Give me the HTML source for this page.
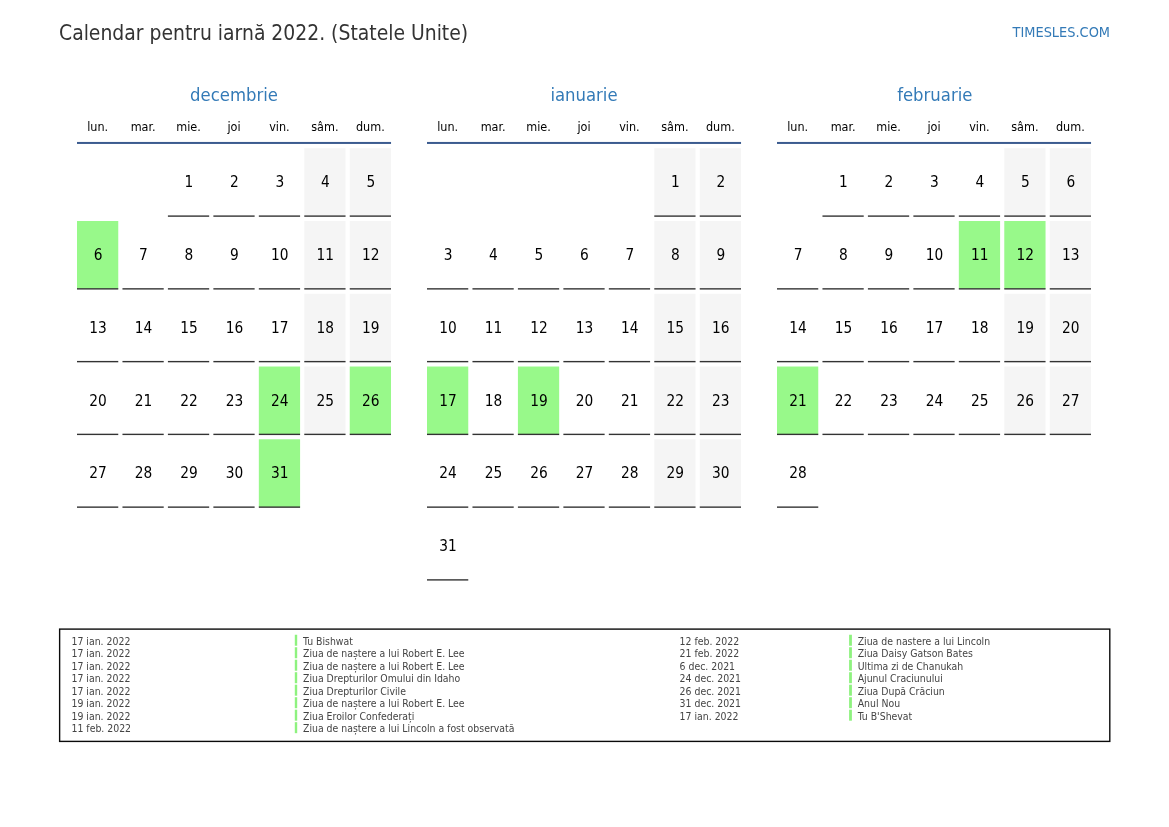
<!DOCTYPE html>
<html lang="ro"><head><meta charset="utf-8"><title>Calendar pentru iarnă 2022. (Statele Unite)</title>
<style>
html,body{margin:0;padding:0;background:#fff;}
body{width:1169px;height:827px;position:relative;overflow:hidden;font-family:"DejaVu Sans Condensed","DejaVu Sans","Liberation Sans",sans-serif;font-stretch:condensed;color:#000;}
#pg{position:absolute;left:0;top:0;width:1169px;height:827px;}
svg{position:absolute;left:0;top:0;}
.a{position:absolute;white-space:nowrap;}
.title{left:59px;top:21px;font-size:20.9px;line-height:24px;color:#333;}
.site{right:59px;top:24px;font-size:14.4px;line-height:16px;color:#337ab7;}
.mn{width:314px;text-align:center;top:84px;font-size:18.33px;line-height:22px;color:#337ab7;}
.wd{width:41.26px;text-align:center;top:119px;font-size:12.5px;line-height:16px;color:#000;}
.c{width:41.26px;height:68px;text-align:center;font-size:15.28px;line-height:68px;}
.l{font-size:10.4px;line-height:12px;color:#444;}
</style></head><body><div id="pg">
<svg width="1169" height="827" viewBox="0 0 1169 827">
<rect x="77.0" y="141.95" width="314.04" height="2" fill="#3b5b8f"/>
<rect x="167.91" y="215.41" width="41.26" height="1.39" fill="#333"/>
<rect x="213.37" y="215.41" width="41.26" height="1.39" fill="#333"/>
<rect x="258.83" y="215.41" width="41.26" height="1.39" fill="#333"/>
<rect x="304.28" y="148.24" width="41.26" height="67.86" fill="#f5f5f5"/>
<rect x="304.28" y="215.41" width="41.26" height="1.39" fill="#333"/>
<rect x="349.74" y="148.24" width="41.26" height="67.86" fill="#f5f5f5"/>
<rect x="349.74" y="215.41" width="41.26" height="1.39" fill="#333"/>
<rect x="77.00" y="221.00" width="41.26" height="67.86" fill="#98f98a"/>
<rect x="77.00" y="288.17" width="41.26" height="1.39" fill="#333"/>
<rect x="122.46" y="288.17" width="41.26" height="1.39" fill="#333"/>
<rect x="167.91" y="288.17" width="41.26" height="1.39" fill="#333"/>
<rect x="213.37" y="288.17" width="41.26" height="1.39" fill="#333"/>
<rect x="258.83" y="288.17" width="41.26" height="1.39" fill="#333"/>
<rect x="304.28" y="221.00" width="41.26" height="67.86" fill="#f5f5f5"/>
<rect x="304.28" y="288.17" width="41.26" height="1.39" fill="#333"/>
<rect x="349.74" y="221.00" width="41.26" height="67.86" fill="#f5f5f5"/>
<rect x="349.74" y="288.17" width="41.26" height="1.39" fill="#333"/>
<rect x="77.00" y="360.93" width="41.26" height="1.39" fill="#333"/>
<rect x="122.46" y="360.93" width="41.26" height="1.39" fill="#333"/>
<rect x="167.91" y="360.93" width="41.26" height="1.39" fill="#333"/>
<rect x="213.37" y="360.93" width="41.26" height="1.39" fill="#333"/>
<rect x="258.83" y="360.93" width="41.26" height="1.39" fill="#333"/>
<rect x="304.28" y="293.76" width="41.26" height="67.86" fill="#f5f5f5"/>
<rect x="304.28" y="360.93" width="41.26" height="1.39" fill="#333"/>
<rect x="349.74" y="293.76" width="41.26" height="67.86" fill="#f5f5f5"/>
<rect x="349.74" y="360.93" width="41.26" height="1.39" fill="#333"/>
<rect x="77.00" y="433.69" width="41.26" height="1.39" fill="#333"/>
<rect x="122.46" y="433.69" width="41.26" height="1.39" fill="#333"/>
<rect x="167.91" y="433.69" width="41.26" height="1.39" fill="#333"/>
<rect x="213.37" y="433.69" width="41.26" height="1.39" fill="#333"/>
<rect x="258.83" y="366.52" width="41.26" height="67.86" fill="#98f98a"/>
<rect x="258.83" y="433.69" width="41.26" height="1.39" fill="#333"/>
<rect x="304.28" y="366.52" width="41.26" height="67.86" fill="#f5f5f5"/>
<rect x="304.28" y="433.69" width="41.26" height="1.39" fill="#333"/>
<rect x="349.74" y="366.52" width="41.26" height="67.86" fill="#98f98a"/>
<rect x="349.74" y="433.69" width="41.26" height="1.39" fill="#333"/>
<rect x="77.00" y="506.44" width="41.26" height="1.39" fill="#333"/>
<rect x="122.46" y="506.44" width="41.26" height="1.39" fill="#333"/>
<rect x="167.91" y="506.44" width="41.26" height="1.39" fill="#333"/>
<rect x="213.37" y="506.44" width="41.26" height="1.39" fill="#333"/>
<rect x="258.83" y="439.28" width="41.26" height="67.86" fill="#98f98a"/>
<rect x="258.83" y="506.44" width="41.26" height="1.39" fill="#333"/>
<rect x="427.0" y="141.95" width="314.04" height="2" fill="#3b5b8f"/>
<rect x="654.28" y="148.24" width="41.26" height="67.86" fill="#f5f5f5"/>
<rect x="654.28" y="215.41" width="41.26" height="1.39" fill="#333"/>
<rect x="699.74" y="148.24" width="41.26" height="67.86" fill="#f5f5f5"/>
<rect x="699.74" y="215.41" width="41.26" height="1.39" fill="#333"/>
<rect x="427.00" y="288.17" width="41.26" height="1.39" fill="#333"/>
<rect x="472.46" y="288.17" width="41.26" height="1.39" fill="#333"/>
<rect x="517.91" y="288.17" width="41.26" height="1.39" fill="#333"/>
<rect x="563.37" y="288.17" width="41.26" height="1.39" fill="#333"/>
<rect x="608.83" y="288.17" width="41.26" height="1.39" fill="#333"/>
<rect x="654.28" y="221.00" width="41.26" height="67.86" fill="#f5f5f5"/>
<rect x="654.28" y="288.17" width="41.26" height="1.39" fill="#333"/>
<rect x="699.74" y="221.00" width="41.26" height="67.86" fill="#f5f5f5"/>
<rect x="699.74" y="288.17" width="41.26" height="1.39" fill="#333"/>
<rect x="427.00" y="360.93" width="41.26" height="1.39" fill="#333"/>
<rect x="472.46" y="360.93" width="41.26" height="1.39" fill="#333"/>
<rect x="517.91" y="360.93" width="41.26" height="1.39" fill="#333"/>
<rect x="563.37" y="360.93" width="41.26" height="1.39" fill="#333"/>
<rect x="608.83" y="360.93" width="41.26" height="1.39" fill="#333"/>
<rect x="654.28" y="293.76" width="41.26" height="67.86" fill="#f5f5f5"/>
<rect x="654.28" y="360.93" width="41.26" height="1.39" fill="#333"/>
<rect x="699.74" y="293.76" width="41.26" height="67.86" fill="#f5f5f5"/>
<rect x="699.74" y="360.93" width="41.26" height="1.39" fill="#333"/>
<rect x="427.00" y="366.52" width="41.26" height="67.86" fill="#98f98a"/>
<rect x="427.00" y="433.69" width="41.26" height="1.39" fill="#333"/>
<rect x="472.46" y="433.69" width="41.26" height="1.39" fill="#333"/>
<rect x="517.91" y="366.52" width="41.26" height="67.86" fill="#98f98a"/>
<rect x="517.91" y="433.69" width="41.26" height="1.39" fill="#333"/>
<rect x="563.37" y="433.69" width="41.26" height="1.39" fill="#333"/>
<rect x="608.83" y="433.69" width="41.26" height="1.39" fill="#333"/>
<rect x="654.28" y="366.52" width="41.26" height="67.86" fill="#f5f5f5"/>
<rect x="654.28" y="433.69" width="41.26" height="1.39" fill="#333"/>
<rect x="699.74" y="366.52" width="41.26" height="67.86" fill="#f5f5f5"/>
<rect x="699.74" y="433.69" width="41.26" height="1.39" fill="#333"/>
<rect x="427.00" y="506.44" width="41.26" height="1.39" fill="#333"/>
<rect x="472.46" y="506.44" width="41.26" height="1.39" fill="#333"/>
<rect x="517.91" y="506.44" width="41.26" height="1.39" fill="#333"/>
<rect x="563.37" y="506.44" width="41.26" height="1.39" fill="#333"/>
<rect x="608.83" y="506.44" width="41.26" height="1.39" fill="#333"/>
<rect x="654.28" y="439.28" width="41.26" height="67.86" fill="#f5f5f5"/>
<rect x="654.28" y="506.44" width="41.26" height="1.39" fill="#333"/>
<rect x="699.74" y="439.28" width="41.26" height="67.86" fill="#f5f5f5"/>
<rect x="699.74" y="506.44" width="41.26" height="1.39" fill="#333"/>
<rect x="427.00" y="579.20" width="41.26" height="1.39" fill="#333"/>
<rect x="777.0" y="141.95" width="314.04" height="2" fill="#3b5b8f"/>
<rect x="822.46" y="215.41" width="41.26" height="1.39" fill="#333"/>
<rect x="867.91" y="215.41" width="41.26" height="1.39" fill="#333"/>
<rect x="913.37" y="215.41" width="41.26" height="1.39" fill="#333"/>
<rect x="958.83" y="215.41" width="41.26" height="1.39" fill="#333"/>
<rect x="1004.28" y="148.24" width="41.26" height="67.86" fill="#f5f5f5"/>
<rect x="1004.28" y="215.41" width="41.26" height="1.39" fill="#333"/>
<rect x="1049.74" y="148.24" width="41.26" height="67.86" fill="#f5f5f5"/>
<rect x="1049.74" y="215.41" width="41.26" height="1.39" fill="#333"/>
<rect x="777.00" y="288.17" width="41.26" height="1.39" fill="#333"/>
<rect x="822.46" y="288.17" width="41.26" height="1.39" fill="#333"/>
<rect x="867.91" y="288.17" width="41.26" height="1.39" fill="#333"/>
<rect x="913.37" y="288.17" width="41.26" height="1.39" fill="#333"/>
<rect x="958.83" y="221.00" width="41.26" height="67.86" fill="#98f98a"/>
<rect x="958.83" y="288.17" width="41.26" height="1.39" fill="#333"/>
<rect x="1004.28" y="221.00" width="41.26" height="67.86" fill="#98f98a"/>
<rect x="1004.28" y="288.17" width="41.26" height="1.39" fill="#333"/>
<rect x="1049.74" y="221.00" width="41.26" height="67.86" fill="#f5f5f5"/>
<rect x="1049.74" y="288.17" width="41.26" height="1.39" fill="#333"/>
<rect x="777.00" y="360.93" width="41.26" height="1.39" fill="#333"/>
<rect x="822.46" y="360.93" width="41.26" height="1.39" fill="#333"/>
<rect x="867.91" y="360.93" width="41.26" height="1.39" fill="#333"/>
<rect x="913.37" y="360.93" width="41.26" height="1.39" fill="#333"/>
<rect x="958.83" y="360.93" width="41.26" height="1.39" fill="#333"/>
<rect x="1004.28" y="293.76" width="41.26" height="67.86" fill="#f5f5f5"/>
<rect x="1004.28" y="360.93" width="41.26" height="1.39" fill="#333"/>
<rect x="1049.74" y="293.76" width="41.26" height="67.86" fill="#f5f5f5"/>
<rect x="1049.74" y="360.93" width="41.26" height="1.39" fill="#333"/>
<rect x="777.00" y="366.52" width="41.26" height="67.86" fill="#98f98a"/>
<rect x="777.00" y="433.69" width="41.26" height="1.39" fill="#333"/>
<rect x="822.46" y="433.69" width="41.26" height="1.39" fill="#333"/>
<rect x="867.91" y="433.69" width="41.26" height="1.39" fill="#333"/>
<rect x="913.37" y="433.69" width="41.26" height="1.39" fill="#333"/>
<rect x="958.83" y="433.69" width="41.26" height="1.39" fill="#333"/>
<rect x="1004.28" y="366.52" width="41.26" height="67.86" fill="#f5f5f5"/>
<rect x="1004.28" y="433.69" width="41.26" height="1.39" fill="#333"/>
<rect x="1049.74" y="366.52" width="41.26" height="67.86" fill="#f5f5f5"/>
<rect x="1049.74" y="433.69" width="41.26" height="1.39" fill="#333"/>
<rect x="777.00" y="506.44" width="41.26" height="1.39" fill="#333"/>
<rect x="59.63" y="629.1" width="1050.17" height="112.3" fill="none" stroke="#0a0a0a" stroke-width="1.39"/>
<rect x="294.8" y="634.75" width="2.4" height="11.0" fill="#8ef27f"/>
<rect x="294.8" y="647.24" width="2.4" height="11.0" fill="#8ef27f"/>
<rect x="294.8" y="659.73" width="2.4" height="11.0" fill="#8ef27f"/>
<rect x="294.8" y="672.22" width="2.4" height="11.0" fill="#8ef27f"/>
<rect x="294.8" y="684.71" width="2.4" height="11.0" fill="#8ef27f"/>
<rect x="294.8" y="697.20" width="2.4" height="11.0" fill="#8ef27f"/>
<rect x="294.8" y="709.69" width="2.4" height="11.0" fill="#8ef27f"/>
<rect x="294.8" y="722.18" width="2.4" height="11.0" fill="#8ef27f"/>
<rect x="849.1" y="634.75" width="2.8" height="11.0" fill="#8ef27f"/>
<rect x="849.1" y="647.24" width="2.8" height="11.0" fill="#8ef27f"/>
<rect x="849.1" y="659.73" width="2.8" height="11.0" fill="#8ef27f"/>
<rect x="849.1" y="672.22" width="2.8" height="11.0" fill="#8ef27f"/>
<rect x="849.1" y="684.71" width="2.8" height="11.0" fill="#8ef27f"/>
<rect x="849.1" y="697.20" width="2.8" height="11.0" fill="#8ef27f"/>
<rect x="849.1" y="709.69" width="2.8" height="11.0" fill="#8ef27f"/>
</svg>
<div class="a title">Calendar pentru iarnă 2022. (Statele Unite)</div>
<div class="a site">TIMESLES.COM</div>
<div class="a mn" style="left:77.00px">decembrie</div>
<div class="a wd" style="left:77.00px">lun.</div>
<div class="a wd" style="left:122.46px">mar.</div>
<div class="a wd" style="left:167.91px">mie.</div>
<div class="a wd" style="left:213.37px">joi</div>
<div class="a wd" style="left:258.83px">vin.</div>
<div class="a wd" style="left:304.28px">sâm.</div>
<div class="a wd" style="left:349.74px">dum.</div>
<div class="a c" style="left:168.31px;top:148.24px">1</div>
<div class="a c" style="left:213.77px;top:148.24px">2</div>
<div class="a c" style="left:259.23px;top:148.24px">3</div>
<div class="a c" style="left:304.68px;top:148.24px">4</div>
<div class="a c" style="left:350.14px;top:148.24px">5</div>
<div class="a c" style="left:77.40px;top:221.00px">6</div>
<div class="a c" style="left:122.86px;top:221.00px">7</div>
<div class="a c" style="left:168.31px;top:221.00px">8</div>
<div class="a c" style="left:213.77px;top:221.00px">9</div>
<div class="a c" style="left:259.23px;top:221.00px">10</div>
<div class="a c" style="left:304.68px;top:221.00px">11</div>
<div class="a c" style="left:350.14px;top:221.00px">12</div>
<div class="a c" style="left:77.40px;top:293.76px">13</div>
<div class="a c" style="left:122.86px;top:293.76px">14</div>
<div class="a c" style="left:168.31px;top:293.76px">15</div>
<div class="a c" style="left:213.77px;top:293.76px">16</div>
<div class="a c" style="left:259.23px;top:293.76px">17</div>
<div class="a c" style="left:304.68px;top:293.76px">18</div>
<div class="a c" style="left:350.14px;top:293.76px">19</div>
<div class="a c" style="left:77.40px;top:366.52px">20</div>
<div class="a c" style="left:122.86px;top:366.52px">21</div>
<div class="a c" style="left:168.31px;top:366.52px">22</div>
<div class="a c" style="left:213.77px;top:366.52px">23</div>
<div class="a c" style="left:259.23px;top:366.52px">24</div>
<div class="a c" style="left:304.68px;top:366.52px">25</div>
<div class="a c" style="left:350.14px;top:366.52px">26</div>
<div class="a c" style="left:77.40px;top:439.28px">27</div>
<div class="a c" style="left:122.86px;top:439.28px">28</div>
<div class="a c" style="left:168.31px;top:439.28px">29</div>
<div class="a c" style="left:213.77px;top:439.28px">30</div>
<div class="a c" style="left:259.23px;top:439.28px">31</div>
<div class="a mn" style="left:427.00px">ianuarie</div>
<div class="a wd" style="left:427.00px">lun.</div>
<div class="a wd" style="left:472.46px">mar.</div>
<div class="a wd" style="left:517.91px">mie.</div>
<div class="a wd" style="left:563.37px">joi</div>
<div class="a wd" style="left:608.83px">vin.</div>
<div class="a wd" style="left:654.28px">sâm.</div>
<div class="a wd" style="left:699.74px">dum.</div>
<div class="a c" style="left:654.68px;top:148.24px">1</div>
<div class="a c" style="left:700.14px;top:148.24px">2</div>
<div class="a c" style="left:427.40px;top:221.00px">3</div>
<div class="a c" style="left:472.86px;top:221.00px">4</div>
<div class="a c" style="left:518.31px;top:221.00px">5</div>
<div class="a c" style="left:563.77px;top:221.00px">6</div>
<div class="a c" style="left:609.23px;top:221.00px">7</div>
<div class="a c" style="left:654.68px;top:221.00px">8</div>
<div class="a c" style="left:700.14px;top:221.00px">9</div>
<div class="a c" style="left:427.40px;top:293.76px">10</div>
<div class="a c" style="left:472.86px;top:293.76px">11</div>
<div class="a c" style="left:518.31px;top:293.76px">12</div>
<div class="a c" style="left:563.77px;top:293.76px">13</div>
<div class="a c" style="left:609.23px;top:293.76px">14</div>
<div class="a c" style="left:654.68px;top:293.76px">15</div>
<div class="a c" style="left:700.14px;top:293.76px">16</div>
<div class="a c" style="left:427.40px;top:366.52px">17</div>
<div class="a c" style="left:472.86px;top:366.52px">18</div>
<div class="a c" style="left:518.31px;top:366.52px">19</div>
<div class="a c" style="left:563.77px;top:366.52px">20</div>
<div class="a c" style="left:609.23px;top:366.52px">21</div>
<div class="a c" style="left:654.68px;top:366.52px">22</div>
<div class="a c" style="left:700.14px;top:366.52px">23</div>
<div class="a c" style="left:427.40px;top:439.28px">24</div>
<div class="a c" style="left:472.86px;top:439.28px">25</div>
<div class="a c" style="left:518.31px;top:439.28px">26</div>
<div class="a c" style="left:563.77px;top:439.28px">27</div>
<div class="a c" style="left:609.23px;top:439.28px">28</div>
<div class="a c" style="left:654.68px;top:439.28px">29</div>
<div class="a c" style="left:700.14px;top:439.28px">30</div>
<div class="a c" style="left:427.40px;top:512.04px">31</div>
<div class="a mn" style="left:777.80px">februarie</div>
<div class="a wd" style="left:777.00px">lun.</div>
<div class="a wd" style="left:822.46px">mar.</div>
<div class="a wd" style="left:867.91px">mie.</div>
<div class="a wd" style="left:913.37px">joi</div>
<div class="a wd" style="left:958.83px">vin.</div>
<div class="a wd" style="left:1004.28px">sâm.</div>
<div class="a wd" style="left:1049.74px">dum.</div>
<div class="a c" style="left:822.86px;top:148.24px">1</div>
<div class="a c" style="left:868.31px;top:148.24px">2</div>
<div class="a c" style="left:913.77px;top:148.24px">3</div>
<div class="a c" style="left:959.23px;top:148.24px">4</div>
<div class="a c" style="left:1004.68px;top:148.24px">5</div>
<div class="a c" style="left:1050.14px;top:148.24px">6</div>
<div class="a c" style="left:777.40px;top:221.00px">7</div>
<div class="a c" style="left:822.86px;top:221.00px">8</div>
<div class="a c" style="left:868.31px;top:221.00px">9</div>
<div class="a c" style="left:913.77px;top:221.00px">10</div>
<div class="a c" style="left:959.23px;top:221.00px">11</div>
<div class="a c" style="left:1004.68px;top:221.00px">12</div>
<div class="a c" style="left:1050.14px;top:221.00px">13</div>
<div class="a c" style="left:777.40px;top:293.76px">14</div>
<div class="a c" style="left:822.86px;top:293.76px">15</div>
<div class="a c" style="left:868.31px;top:293.76px">16</div>
<div class="a c" style="left:913.77px;top:293.76px">17</div>
<div class="a c" style="left:959.23px;top:293.76px">18</div>
<div class="a c" style="left:1004.68px;top:293.76px">19</div>
<div class="a c" style="left:1050.14px;top:293.76px">20</div>
<div class="a c" style="left:777.40px;top:366.52px">21</div>
<div class="a c" style="left:822.86px;top:366.52px">22</div>
<div class="a c" style="left:868.31px;top:366.52px">23</div>
<div class="a c" style="left:913.77px;top:366.52px">24</div>
<div class="a c" style="left:959.23px;top:366.52px">25</div>
<div class="a c" style="left:1004.68px;top:366.52px">26</div>
<div class="a c" style="left:1050.14px;top:366.52px">27</div>
<div class="a c" style="left:777.40px;top:439.28px">28</div>
<div class="a l" style="left:71.5px;top:635px">17 ian. 2022</div>
<div class="a l" style="left:303px;top:635px">Tu Bishwat</div>
<div class="a l" style="left:71.5px;top:647px">17 ian. 2022</div>
<div class="a l" style="left:303px;top:647px">Ziua de naștere a lui Robert E. Lee</div>
<div class="a l" style="left:71.5px;top:660px">17 ian. 2022</div>
<div class="a l" style="left:303px;top:660px">Ziua de naștere a lui Robert E. Lee</div>
<div class="a l" style="left:71.5px;top:672px">17 ian. 2022</div>
<div class="a l" style="left:303px;top:672px">Ziua Drepturilor Omului din Idaho</div>
<div class="a l" style="left:71.5px;top:685px">17 ian. 2022</div>
<div class="a l" style="left:303px;top:685px">Ziua Drepturilor Civile</div>
<div class="a l" style="left:71.5px;top:697px">19 ian. 2022</div>
<div class="a l" style="left:303px;top:697px">Ziua de naștere a lui Robert E. Lee</div>
<div class="a l" style="left:71.5px;top:710px">19 ian. 2022</div>
<div class="a l" style="left:303px;top:710px">Ziua Eroilor Confederați</div>
<div class="a l" style="left:71.5px;top:722px">11 feb. 2022</div>
<div class="a l" style="left:303px;top:722px">Ziua de naștere a lui Lincoln a fost observată</div>
<div class="a l" style="left:679.6px;top:635px">12 feb. 2022</div>
<div class="a l" style="left:857.7px;top:635px">Ziua de nastere a lui Lincoln</div>
<div class="a l" style="left:679.6px;top:647px">21 feb. 2022</div>
<div class="a l" style="left:857.7px;top:647px">Ziua Daisy Gatson Bates</div>
<div class="a l" style="left:679.6px;top:660px">6 dec. 2021</div>
<div class="a l" style="left:857.7px;top:660px">Ultima zi de Chanukah</div>
<div class="a l" style="left:679.6px;top:672px">24 dec. 2021</div>
<div class="a l" style="left:857.7px;top:672px">Ajunul Craciunului</div>
<div class="a l" style="left:679.6px;top:685px">26 dec. 2021</div>
<div class="a l" style="left:857.7px;top:685px">Ziua După Crăciun</div>
<div class="a l" style="left:679.6px;top:697px">31 dec. 2021</div>
<div class="a l" style="left:857.7px;top:697px">Anul Nou</div>
<div class="a l" style="left:679.6px;top:710px">17 ian. 2022</div>
<div class="a l" style="left:857.7px;top:710px">Tu B'Shevat</div>
</div></body></html>
